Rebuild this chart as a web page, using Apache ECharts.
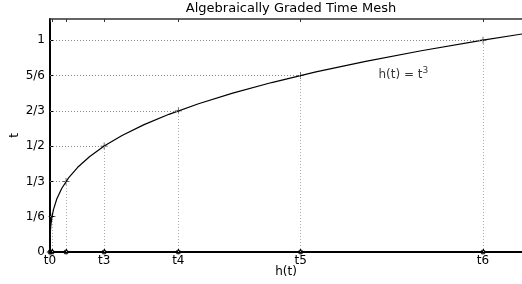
<!DOCTYPE html>
<html>
<head>
<meta charset="utf-8">
<title>Algebraically Graded Time Mesh</title>
<script src="https://cdn.jsdelivr.net/npm/echarts@6/dist/echarts.min.js"></script>
<style>
html, body { margin: 0; padding: 0; background: #fff; }
#main { width: 522px; height: 284px; }
</style>
</head>
<body>
<div id="main"></div>
<script>
// mesh points t_k = k/6, h(t_k) = t_k^3
var meshT = [0, 1/6, 1/3, 1/2, 2/3, 5/6, 1];
var meshH = [0, 0.0046, 0.037, 0.125, 0.2963, 0.5787, 1];
var xTickLabels = ['t0', '', '', 't3', 't4', 't5', 't6'];
var yTickLabels = ['0', '1/6', '1/3', '1/2', '2/3', '5/6', '1'];
// sample t values along the curve h(t) = t^3
var curveT = [0, 0.005, 0.01, 0.02, 0.04, 0.06, 0.08, 0.1, 0.13, 0.16, 0.2, 0.25, 0.3, 0.35,
              0.4, 0.45, 0.5, 0.55, 0.6, 0.65, 0.7, 0.75, 0.8, 0.85, 0.9, 0.95, 1, 1.03];

var FONT = 'DejaVu Sans';

var curve = [];
for (var i = 0; i < curveT.length; i++) {
    curve.push([Math.pow(curveT[i], 3), curveT[i]]);
}

var points = [], axisDots = [], guides = [];
var xLabelValues = [];
for (var k = 0; k < meshT.length; k++) {
    points.push([meshH[k], meshT[k]]);
    axisDots.push([meshH[k], 0]);
    if (xTickLabels[k] !== '') xLabelValues.push(meshH[k]);
    if (k > 0) {
        // vertical dotted line from the axis up to the point
        guides.push([{coord: [meshH[k], 0], lineStyle: {color: '#aaa'}}, {coord: [meshH[k], meshT[k]]}]);
        // horizontal dotted line from the t axis to the point
        guides.push([{coord: [0, meshT[k]], lineStyle: {color: '#888'}}, {coord: [meshH[k], meshT[k]]}]);
    }
}

function xLabel(v) {
    for (var i = 0; i < meshH.length; i++) {
        if (Math.abs(meshH[i] - v) < 1e-6) return xTickLabels[i];
    }
    return '';
}

var chart = echarts.init(document.getElementById('main'), null, {renderer: 'canvas'});

var option = {
    animation: false,
    backgroundColor: '#fff',
    title: {
        text: 'Algebraically Graded Time Mesh',
        left: 286,
        textAlign: 'center',
        top: -3,
        textStyle: {fontFamily: FONT, fontSize: 13, fontWeight: 'normal', color: '#000'}
    },
    grid: {left: 50, right: 0, top: 19, bottom: 32, outerBoundsMode: 'none', containLabel: false},
    xAxis: [{
        type: 'value',
        position: 'bottom',
        min: 0,
        max: 1.09,
        name: 'h(t)',
        nameLocation: 'middle',
        nameGap: 14,
        nameMoveOverlap: false,
        nameTextStyle: {fontFamily: FONT, fontSize: 12, color: '#000'},
        axisLine: {show: true, onZero: false, lineStyle: {color: '#000', width: 2}},
        axisTick: {show: true, inside: true, length: 3, customValues: meshH, lineStyle: {color: '#000'}},
        axisLabel: {
            customValues: xLabelValues,
            formatter: xLabel,
            margin: 3,
            fontFamily: FONT, fontSize: 12, color: '#000'
        },
        splitLine: {show: false}
    }, {
        type: 'value',
        position: 'top',
        min: 0,
        max: 1.09,
        axisLine: {show: true, onZero: false, lineStyle: {color: '#333', width: 1.5}},
        axisTick: {show: true, inside: true, length: 3, customValues: meshH, lineStyle: {color: '#333'}},
        axisLabel: {show: false},
        splitLine: {show: false}
    }],
    yAxis: {
        type: 'value',
        min: 0,
        max: 1.1,
        name: 't',
        nameLocation: 'middle',
        nameRotate: 90,
        nameGap: 29,
        nameMoveOverlap: false,
        nameTextStyle: {fontFamily: FONT, fontSize: 12, color: '#000'},
        axisLine: {show: true, onZero: false, lineStyle: {color: '#000', width: 2}},
        axisTick: {show: true, inside: true, length: 4, customValues: meshT, lineStyle: {color: '#000'}},
        axisLabel: {
            customValues: meshT,
            formatter: function (v) { return yTickLabels[Math.round(v * 6)]; },
            margin: 5,
            fontFamily: FONT, fontSize: 12, color: '#000'
        },
        splitLine: {show: false}
    },
    series: [{
        type: 'line',
        data: [],
        silent: true,
        markLine: {
            silent: true,
            symbol: ['none', 'none'],
            label: {show: false},
            lineStyle: {type: [1, 2], width: 1, color: '#999'},
            data: guides
        }
    }, {
        type: 'line',
        xAxisIndex: 1,
        data: [],
        silent: true
    }, {
        type: 'line',
        data: curve,
        showSymbol: false,
        silent: true,
        lineStyle: {color: '#000', width: 1.2},
        z: 3
    }, {
        type: 'scatter',
        data: points,
        symbol: 'path://M0,4.5H10V5.5H0Z M4.5,0H5.5V10H4.5Z',
        symbolSize: 7,
        itemStyle: {color: '#000'},
        clip: false,
        silent: true,
        z: 4
    }, {
        type: 'scatter',
        data: axisDots,
        symbol: 'circle',
        symbolSize: 5,
        itemStyle: {color: '#000'},
        clip: false,
        silent: true,
        z: 4
    }, {
        type: 'scatter',
        data: [[0.816, 0.835]],
        symbolSize: 0,
        silent: true,
        label: {
            show: true,
            position: 'inside',
            formatter: '{b|h(t) = t}{s|3}',
            rich: {
                b: {fontFamily: FONT, fontSize: 12, color: '#000'},
                s: {fontFamily: FONT, fontSize: 9, color: '#000', verticalAlign: 'bottom', padding: [0, 0, 8, 0]}
            }
        }
    }]
};

chart.setOption(option);
</script>
</body>
</html>
